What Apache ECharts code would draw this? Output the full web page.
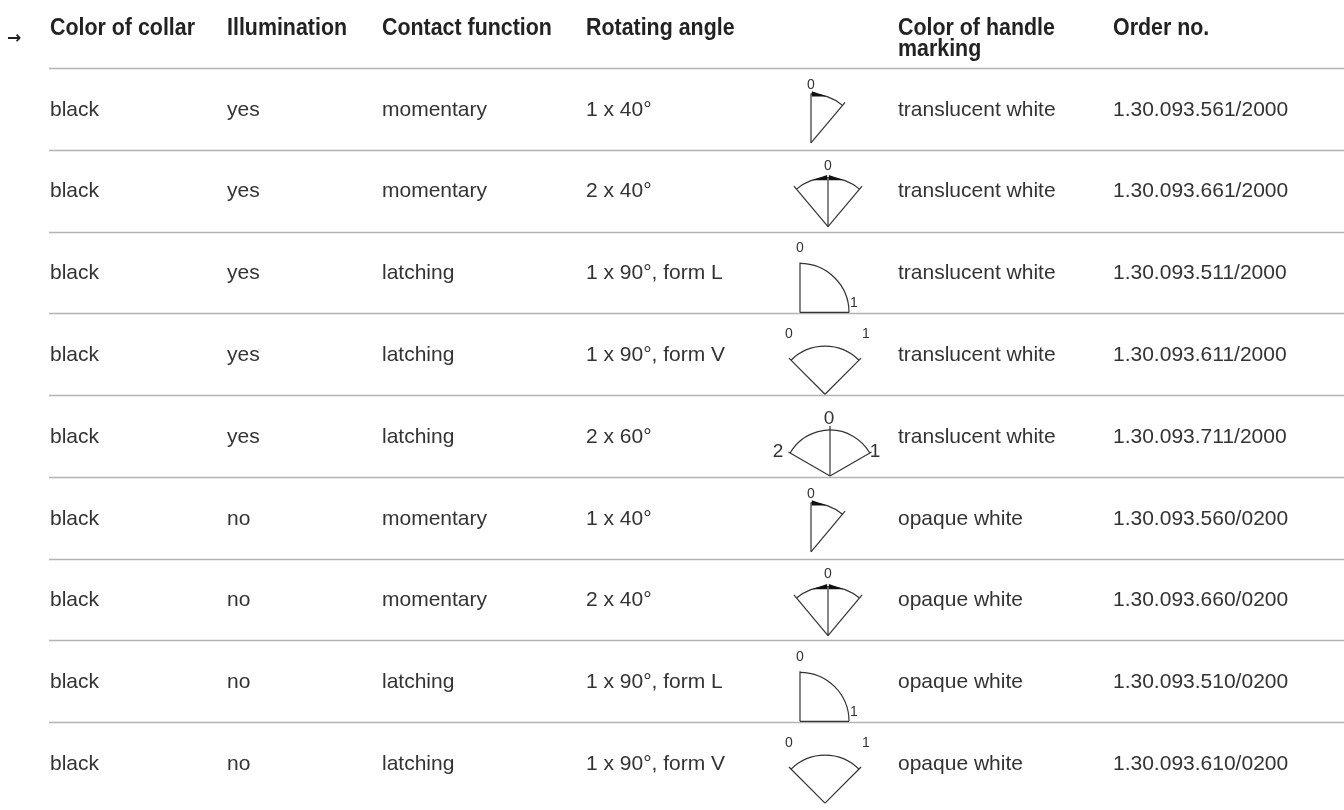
<!DOCTYPE html>
<html>
<head>
<meta charset="utf-8">
<script src="https://cdn.jsdelivr.net/npm/echarts@6/dist/echarts.min.js"></script>
<style>
html,body{margin:0;padding:0;background:#fff;}
#chart{width:1344px;height:810px;}
</style>
</head>
<body>
<div id="chart"></div>
<script>
// ---- data ----
const headers = ['Color of collar', 'Illumination', 'Contact function', 'Rotating angle', 'Color of handle\nmarking', 'Order no.'];
const collar = ['black', 'black', 'black', 'black', 'black', 'black', 'black', 'black', 'black'];
const illumination = ['yes', 'yes', 'yes', 'yes', 'yes', 'no', 'no', 'no', 'no'];
const contact = ['momentary', 'momentary', 'latching', 'latching', 'latching', 'momentary', 'momentary', 'latching', 'latching'];
const angle = ['1 x 40°', '2 x 40°', '1 x 90°, form L', '1 x 90°, form V', '2 x 60°', '1 x 40°', '2 x 40°', '1 x 90°, form L', '1 x 90°, form V'];
const diagramType = ['1x40', '2x40', 'L', 'V', '2x60', '1x40', '2x40', 'L', 'V'];
const handleColor = ['translucent white', 'translucent white', 'translucent white', 'translucent white', 'translucent white', 'opaque white', 'opaque white', 'opaque white', 'opaque white'];
const orderNo = ['1.30.093.561/2000', '1.30.093.661/2000', '1.30.093.511/2000', '1.30.093.611/2000', '1.30.093.711/2000', '1.30.093.560/0200', '1.30.093.660/0200', '1.30.093.510/0200', '1.30.093.610/0200'];

// ---- layout / style ----
const COLS = [50, 227, 382, 586, 898, 1113];
const BODY_FONT = '21px "Liberation Sans", Arial, sans-serif';
const HEAD_FONT = 'bold 23px "Liberation Sans", Arial, sans-serif';
const TXT = '#333333';
const INK = '#333333';
const RULE = '#b3b3b3';

function P(px, py, r, deg) {
  const a = deg * Math.PI / 180;
  return [px + r * Math.sin(a), py - r * Math.cos(a)];
}
function ray(px, py, r, deg) {
  const p = P(px, py, r, deg);
  return {type: 'line', shape: {x1: px, y1: py, x2: p[0], y2: p[1]}, style: {stroke: INK, lineWidth: 1.2}};
}
function arcEl(px, py, r, d1, d2) {
  return {type: 'arc', shape: {cx: px, cy: py, r: r, startAngle: (d1 - 90) * Math.PI / 180, endAngle: (d2 - 90) * Math.PI / 180, clockwise: true},
          style: {stroke: INK, fill: null, lineWidth: 1.2}};
}
function wedge(px, py, r, dBase, dTip) {
  const t = P(px, py, r, dTip), b1 = P(px, py, r - 2.6, dBase), b2 = P(px, py, r + 2.6, dBase);
  return {type: 'polygon', shape: {points: [b1, b2, t]}, style: {fill: '#111'}};
}
function lab(x, y, t, size) {
  return {type: 'text', style: {text: t, x: x, y: y, fill: TXT, font: size + 'px "Liberation Sans", Arial, sans-serif', align: 'center', verticalAlign: 'middle'}};
}

function diagram(type, cy, coordX) {
  const out = [];
  if (type === '1x40') {
    const px = coordX(811), py = cy + 34;
    out.push(ray(px, py, 49.5, 0), ray(px, py, 53, 40), arcEl(px, py, 49, 0, 40), wedge(px, py, 49, 1, 19), lab(px, py - 58, '0', 14));
  } else if (type === '2x40') {
    const px = coordX(828), py = cy + 36;
    out.push(ray(px, py, 53, -40), ray(px, py, 49, 0), ray(px, py, 53, 40), arcEl(px, py, 49, -40, 40),
             wedge(px, py, 49, 1, 19), wedge(px, py, 49, -1, -19), lab(px, py - 61, '0', 14));
  } else if (type === 'L') {
    const px = coordX(800), py = cy + 40;
    out.push(ray(px, py, 50, 0), ray(px, py, 49, 90), arcEl(px, py, 49, 0, 90), lab(px, py - 64, '0', 14), lab(px + 54, py - 9, '1', 14));
  } else if (type === 'V') {
    const px = coordX(825), py = cy + 40;
    out.push(ray(px, py, 51, -45), ray(px, py, 51, 45), arcEl(px, py, 48, -45, 45), lab(px - 36, py - 60, '0', 14), lab(px + 41, py - 60, '1', 14));
  } else if (type === '2x60') {
    const px = coordX(830), py = cy + 40;
    out.push(ray(px, py, 48, -60), ray(px, py, 50, 0), ray(px, py, 48, 60), arcEl(px, py, 46, -60, 60),
             lab(px - 1, py - 57, '0', 19), lab(px - 52, py - 24, '2', 19), lab(px + 45, py - 24, '1', 19));
  }
  return out;
}

const chart = echarts.init(document.getElementById('chart'), null, {renderer: 'canvas'});

const rowData = orderNo.map((o, i) => [0, i]);

const option = {
  animation: false,
  backgroundColor: '#ffffff',
  grid: {left: 0, right: 0, top: 68, bottom: 6},
  xAxis: {type: 'value', min: 0, max: 1344, show: false},
  yAxis: {type: 'category', data: orderNo, inverse: true, show: false, boundaryGap: true},
  series: [
    {
      // row rules
      type: 'custom', z: 1, data: rowData,
      renderItem: function (params, api) {
        const i = api.value(1);
        const cy = api.coord([0, i])[1];
        const band = api.size([0, 1])[1];
        const y = Math.round(cy - band / 2) + 0.5;
        return {type: 'line', shape: {x1: api.coord([49, i])[0], y1: y, x2: api.coord([1344, i])[0], y2: y}, style: {stroke: RULE, lineWidth: 1.6}};
      }
    },
    {
      // header
      type: 'custom', z: 3, data: [[0, 0]],
      renderItem: function (params, api) {
        const cy0 = api.coord([0, 0])[1];
        const band = api.size([0, 1])[1];
        const top = cy0 - band / 2;
        const children = headers.map((h, k) => ({
          type: 'text',
          x: api.coord([COLS[k], 0])[0], y: top - 50,
          scaleX: 0.93,
          style: {text: h, x: 0, y: 0, fill: '#222', font: HEAD_FONT, lineHeight: 21, align: 'left', verticalAlign: 'top'}
        }));
        children.push({type: 'text', style: {text: '→', x: api.coord([14, 0])[0], y: top - 29, fill: '#222', font: 'bold 17px "DejaVu Sans", sans-serif', align: 'center', verticalAlign: 'middle'}});
        return {type: 'group', children: children};
      }
    },
    {
      // rows: texts + diagrams
      type: 'custom', z: 2, data: rowData,
      renderItem: function (params, api) {
        const i = api.value(1);
        const cy = api.coord([0, i])[1] + 1;
        const cells = [collar[i], illumination[i], contact[i], angle[i], handleColor[i], orderNo[i]];
        const children = cells.map((t, k) => ({
          type: 'text',
          style: {text: t, x: api.coord([COLS[k], i])[0], y: cy, fill: TXT, font: BODY_FONT, align: 'left', verticalAlign: 'middle'}
        }));
        const coordX = (x) => api.coord([x, i])[0];
        return {type: 'group', children: children.concat(diagram(diagramType[i], cy - 1, coordX))};
      }
    }
  ]
};
chart.setOption(option);
</script>
</body>
</html>
